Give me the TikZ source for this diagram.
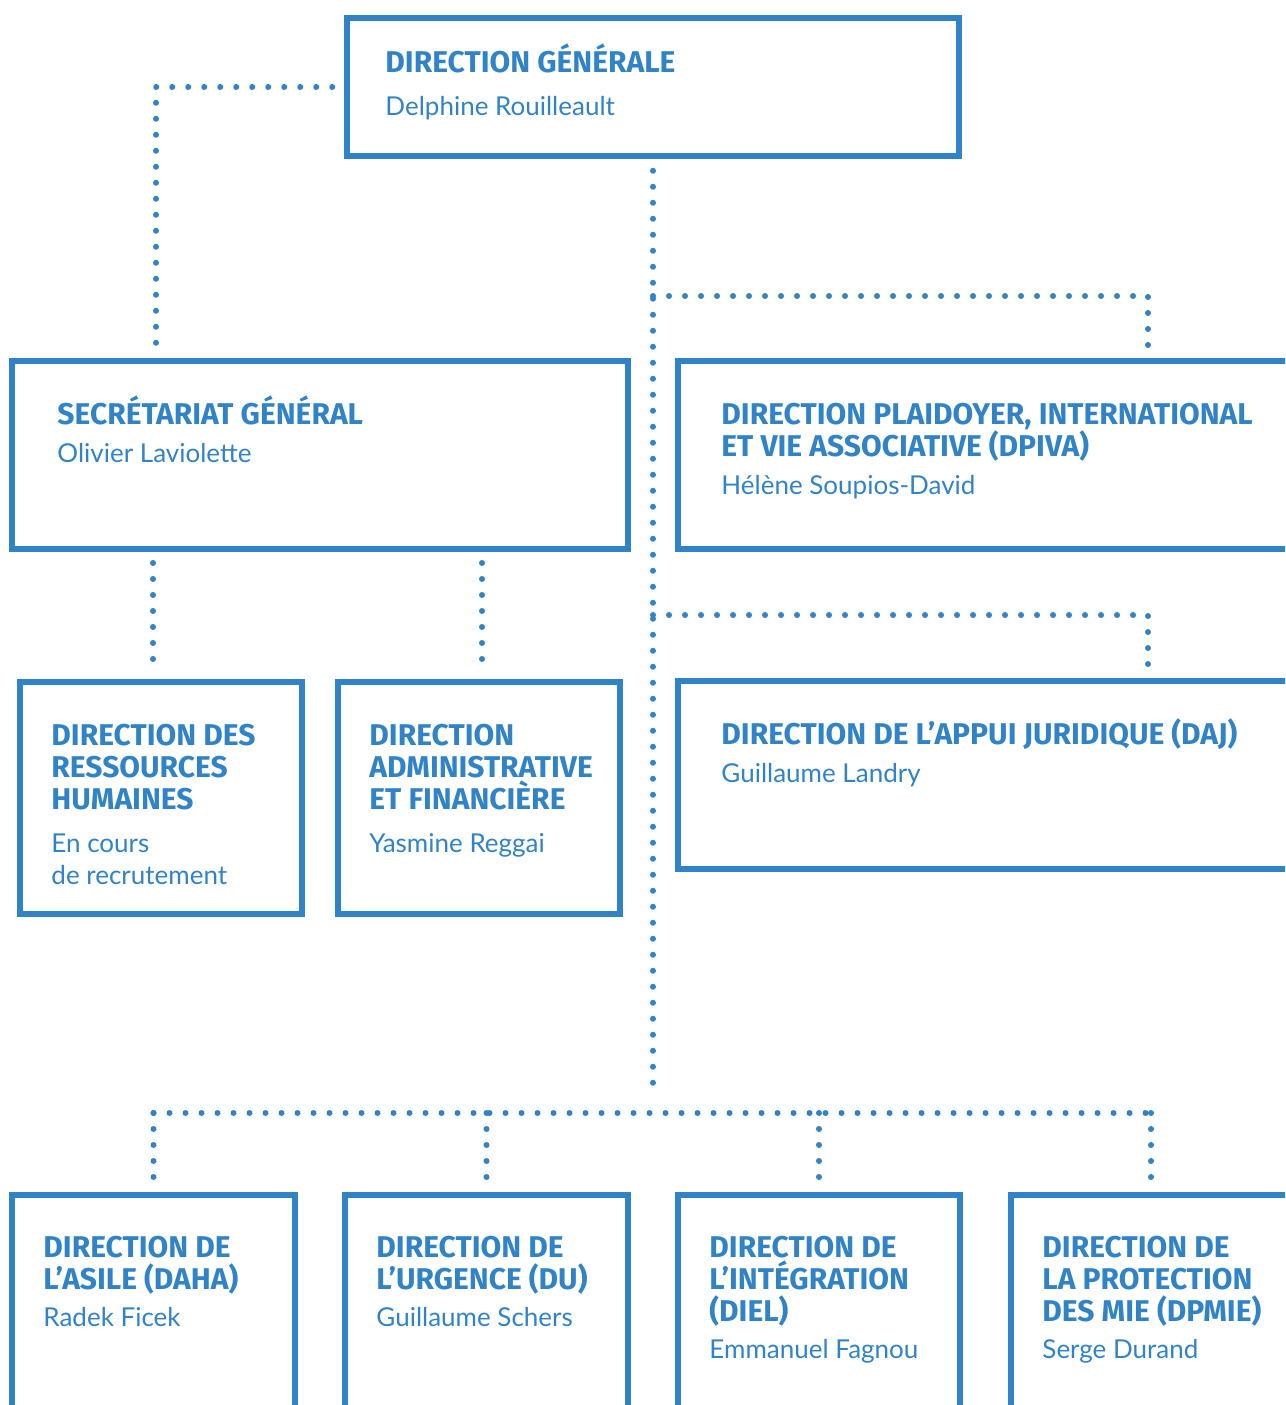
\documentclass[tikz,border=0pt]{standalone}
\usepackage{fontspec}
\usetikzlibrary{positioning}
\usetikzlibrary{fit}
\newfontfamily\titlefont{Fira Sans}
\newfontfamily\namefont{Lato}
\definecolor{orgblue}{RGB}{49,131,200}

\begin{document}
\begin{tikzpicture}[x=1pt,y=-1pt]
\tikzstyle{box}=[draw=orgblue,line width=5.5pt,inner sep=0pt]
\tikzstyle{dotline}=[draw=orgblue,line width=6pt,line cap=round,dash pattern=on 0pt off 16pt]
\tikzstyle{dirtitle}=[anchor=base west,inner sep=0pt,yshift=-3pt,align=left,text=orgblue,font=\titlefont\bfseries\fontsize{30}{32}\selectfont]
\tikzstyle{dirhead}=[anchor=base west,inner sep=0pt,yshift=-3pt,align=left,text=orgblue,font=\namefont\fontsize{26}{32}\selectfont]
\useasboundingbox (0,0) rectangle (1285,1405);
\clip (0,0) rectangle (1285,1405);
%%%%%%%%%%%%%%%%%%%%%%%%%%%%%%%%%%%%%%%%%%%%%%%%%%%%%%%%%%%%%%%%%%%%%%%%%%%%%%%%%%%%%%%%
%% Draw Boxes
%%%%%%%%%%%%%%%%%%%%%%%%%%%%%%%%%%%%%%%%%%%%%%%%%%%%%%%%%%%%%%%%%%%%%%%%%%%%%%%%%%%%%%%%
% top
\node[box,fit={(347,18) (959,156)}] (dg) {};
\node[dirtitle] (dgT) at ([shift={(41pt,-54pt)}]dg.north west) {DIRECTION GÉNÉRALE};
\node[dirhead] (dgN) at ([shift={(41pt,-97pt)}]dg.north west) {Delphine Rouilleault};

% second row
\node[box,fit={(12,361) (628,549)}] (sg) {};
\node[dirtitle] (sgT) at ([shift={(48pt,-63pt)}]sg.north west) {SECRÉTARIAT GÉNÉRAL};
\node[dirhead] (sgN) at ([shift={(48pt,-101pt)}]sg.north west) {Olivier Laviolette};

\node[box,fit={(678,361) (1620,549)}] (dpiva) {};
\node[dirtitle] (dpivaT) at ([shift={(46pt,-95pt)}]dpiva.north west) {DIRECTION PLAIDOYER, INTERNATIONAL\\ET VIE ASSOCIATIVE (DPIVA)};
\node[dirhead] (dpivaN) at ([shift={(46pt,-133pt)}]dpiva.north west) {Hélène Soupios-David};

% third row
\node[box,fit={(20,682) (302,914)}] (drh) {};
\node[dirtitle] (drhT) at ([shift={(34pt,-127pt)}]drh.north west) {DIRECTION DES\\RESSOURCES\\HUMAINES};
\node[dirhead] (drhN) at ([shift={(34pt,-202pt)}]drh.north west) {En cours\\de recrutement};

\node[box,fit={(338,682) (620,914)}] (daf) {};
\node[dirtitle] (dafT) at ([shift={(34pt,-127pt)}]daf.north west) {DIRECTION\\ADMINISTRATIVE\\ET FINANCIÈRE};
\node[dirhead] (dafN) at ([shift={(34pt,-170pt)}]daf.north west) {Yasmine Reggai};

\node[box,fit={(678,681) (1620,869)}] (daj) {};
\node[dirtitle] (dajT) at ([shift={(46pt,-63pt)}]daj.north west) {DIRECTION DE L’APPUI JURIDIQUE (DAJ)};
\node[dirhead] (dajN) at ([shift={(46pt,-101pt)}]daj.north west) {Guillaume Landry};

% bottom row
\node[box,fit={(12,1195) (295,1460)}] (daha) {};
\node[dirtitle] (dahaT) at ([shift={(34pt,-94pt)}]daha.north west) {DIRECTION DE\\L’ASILE (DAHA)};
\node[dirhead] (dahaN) at ([shift={(34pt,-131pt)}]daha.north west) {Radek Ficek};

\node[box,fit={(345,1195) (628,1460)}] (du) {};
\node[dirtitle] (duT) at ([shift={(34pt,-94pt)}]du.north west) {DIRECTION DE\\L’URGENCE (DU)};
\node[dirhead] (duN) at ([shift={(34pt,-131pt)}]du.north west) {Guillaume Schers};

\node[box,fit={(678,1195) (960,1460)}] (diel) {};
\node[dirtitle] (dielT) at ([shift={(34pt,-126pt)}]diel.north west) {DIRECTION DE\\L’INTÉGRATION\\(DIEL)};
\node[dirhead] (dielN) at ([shift={(34pt,-163pt)}]diel.north west) {Emmanuel Fagnou};

\node[box,fit={(1011,1195) (1291,1460)}] (dpmie) {};
\node[dirtitle] (dpmieT) at ([shift={(34pt,-126pt)}]dpmie.north west) {DIRECTION DE\\LA PROTECTION\\DES MIE (DPMIE)};
\node[dirhead] (dpmieN) at ([shift={(34pt,-163pt)}]dpmie.north west) {Serge Durand};
%%%%%%%%%%%%%%%%%%%%%%%%%%%%%%%%%%%%%%%%%%%%%%%%%%%%%%%%%%%%%%%%%%%%%%%%%%%%%%%%%%%%%%%%

%%%%%%%%%%%%%%%%%%%%%%%%%%%%%%%%%%%%%%%%%%%%%%%%%%%%%%%%%%%%%%%%%%%%%%%%%%%%%%%%%%%%%%%%
%%% Draw connections
%%%%%%%%%%%%%%%%%%%%%%%%%%%%%%%%%%%%%%%%%%%%%%%%%%%%%%%%%%%%%%%%%%%%%%%%%%%%%%%%%%%%%%%%
\coordinate (sgIn) at (156,347);
\coordinate (hub) at (653,1097);
\coordinate (bus) at (0,1113);
\coordinate (dpivaIn) at (1148,347);
\coordinate (dajIn) at (1148,667);
\coordinate (drhIn) at (153,667);
\coordinate (dafIn) at (482,667);

\draw[dotline] ([xshift=-12pt]dg.west) -| (sgIn);
\draw[dotline] ([yshift=-12pt]dg.south) -- (hub);
\draw[dotline] (dg.south |- 0,296) -| (dpivaIn);
\draw[dotline] (dg.south |- 0,615) -| (dajIn);
\draw[dotline] (drhIn |- 0,563) -- (drhIn);
\draw[dotline] (dafIn |- 0,563) -- (dafIn);
\draw[dotline] (daha.north |- bus) -- (dpmie.north |- bus);
\foreach \b in {daha,du,diel,dpmie}
  \draw[dotline] (\b.north |- bus) -- ([yshift=12pt]\b.north);
%%%%%%%%%%%%%%%%%%%%%%%%%%%%%%%%%%%%%%%%%%%%%%%%%%%%%%%%%%%%%%%%%%%%%%%%%%%%%%%%%%%%%%%%

\end{tikzpicture}
\end{document}
